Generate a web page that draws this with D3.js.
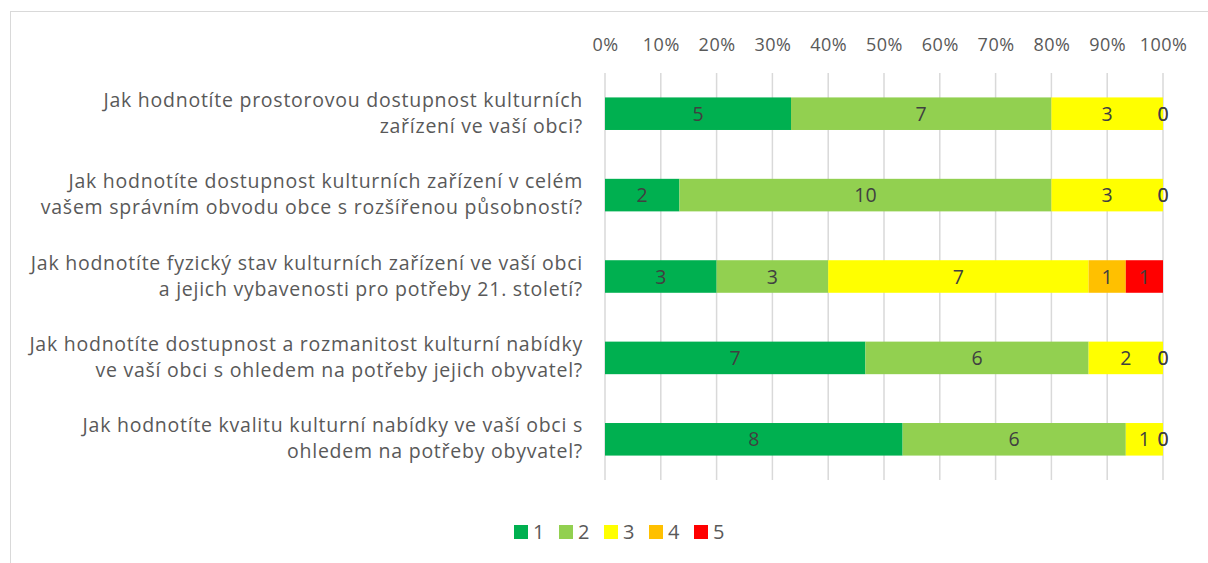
<!DOCTYPE html>
<html>
<head>
<meta charset="utf-8">
<script src="https://cdn.jsdelivr.net/npm/d3@7"></script>
<style>
  body { margin: 0; background: #fff; }
  svg { display: block; font-family: 'Open Sans', sans-serif; }
</style>
</head>
<body>
<svg id="chart" width="1208" height="563"></svg>
<script>
const questions = [
  ['Jak hodnotíte prostorovou dostupnost kulturních', 'zařízení ve vaší obci?'],
  ['Jak hodnotíte dostupnost kulturních zařízení v celém', 'vašem správním obvodu obce s rozšířenou působností?'],
  ['Jak hodnotíte fyzický stav kulturních zařízení ve vaší obci', 'a jejich vybavenosti pro potřeby 21. století?'],
  ['Jak hodnotíte dostupnost a rozmanitost kulturní nabídky', 've vaší obci s ohledem na potřeby jejich obyvatel?'],
  ['Jak hodnotíte kvalitu kulturní nabídky ve vaší obci s', 'ohledem na potřeby obyvatel?']
]
const seriesNames = ['1', '2', '3', '4', '5']
const s1 = [5, 2, 3, 7, 8]
const s2 = [7, 10, 3, 6, 6]
const s3 = [3, 3, 7, 2, 1]
const s4 = [0, 0, 1, 0, 0]
const s5 = [0, 0, 1, 0, 0]
const colors = ['#00B050', '#92D050', '#FFFF00', '#FFC000', '#FF0000']
const ticks = [0, 0.1, 0.2, 0.3, 0.4, 0.5, 0.6, 0.7, 0.8, 0.9, 1]

const rows = questions.map((q, i) => ({
  id: i, q, '1': s1[i], '2': s2[i], '3': s3[i], '4': s4[i], '5': s5[i]
}))

const svg = d3.select('#chart')

// outer frame
svg.append('rect')
  .attr('x', 10.5).attr('y', 11.5)
  .attr('width', 1220).attr('height', 600)
  .attr('fill', 'none').attr('stroke', '#d9d9d9')

const x = d3.scaleLinear().domain([0, 1]).range([605, 1163])
const y = d3.scaleBand().domain(rows.map((d) => d.id)).range([73, 480]).paddingInner(0.6).paddingOuter(0.3)

const stack = d3.stack().keys(seriesNames).offset(d3.stackOffsetExpand)
const layers = stack(rows)

// gridlines
svg.append('g')
  .selectAll('line')
  .data(ticks)
  .join('line')
  .attr('x1', (d) => x(d)).attr('x2', (d) => x(d))
  .attr('y1', 73).attr('y2', 480)
  .attr('stroke', '#d9d9d9').attr('stroke-width', 1.5)

// top axis labels
const xAxis = d3.axisTop(x).tickValues(ticks).tickFormat(d3.format('.0%')).tickSize(0).tickPadding(0)
const ax = svg.append('g').attr('transform', 'translate(0,51)').call(xAxis)
ax.select('.domain').remove()
ax.selectAll('text').attr('fill', '#595959').attr('font-size', 18).attr('font-family', "'Open Sans', sans-serif")
  .attr('letter-spacing', 0.5)

// bars
const groups = svg.append('g')
  .selectAll('g')
  .data(layers)
  .join('g')
  .attr('fill', (d, i) => colors[i])

groups.selectAll('rect')
  .data((d) => d)
  .join('rect')
  .attr('x', (d) => x(d[0]))
  .attr('y', (d) => y(d.data.id))
  .attr('width', (d) => x(d[1]) - x(d[0]))
  .attr('height', y.bandwidth())

// data labels
layers.forEach((layer) => {
  svg.append('g')
    .selectAll('text')
    .data(layer)
    .join('text')
    .attr('x', (d) => (x(d[0]) + x(d[1])) / 2)
    .attr('y', (d) => y(d.data.id) + y.bandwidth() / 2 + 7)
    .attr('text-anchor', 'middle')
    .attr('font-size', 19.5)
    .attr('fill', '#404040')
    .text((d) => d.data[layer.key])
})

// category labels
const cat = svg.append('g')
  .selectAll('text')
  .data(rows)
  .join('text')
  .attr('text-anchor', 'end')
  .attr('fill', '#595959')
  .attr('font-size', 19.5)
  .attr('letter-spacing', 0.75)
cat.each((d, i, nodes) => {
  const cy = y(d.id) + y.bandwidth() / 2
  d3.select(nodes[i]).selectAll('tspan')
    .data(d.q)
    .join('tspan')
    .attr('x', 583)
    .attr('y', (t, j) => cy - 7 + j * 26)
    .text((t) => t)
})

// legend
const legend = svg.append('g')
  .selectAll('g')
  .data(seriesNames)
  .join('g')
  .attr('transform', (d, i) => `translate(${514 + i * 45},525)`)
legend.append('rect')
  .attr('width', 14).attr('height', 14)
  .attr('fill', (d, i) => colors[i])
legend.append('text')
  .attr('x', 19).attr('y', 14)
  .attr('font-size', 20)
  .attr('fill', '#595959')
  .text((d) => d)
</script>
</body>
</html>
